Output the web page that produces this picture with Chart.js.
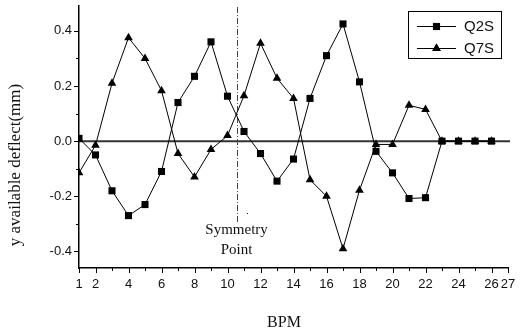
<!DOCTYPE html>
<html>
<head>
<meta charset="utf-8">
<script src="https://cdn.jsdelivr.net/npm/chart.js@4.4.1/dist/chart.umd.min.js"></script>
<style>
  html, body { margin: 0; padding: 0; background: #fff; }
  #c { display: block; }
</style>
</head>
<body>
<canvas id="c" width="520" height="333"></canvas>
<script>
// BPM index along the line
const bpm = [1, 2, 3, 4, 5, 6, 7, 8, 9, 10, 11, 12, 13, 14, 15, 16, 17, 18, 19, 20, 21, 22, 23, 24, 25, 26];
const q2s = [0.01, -0.05, -0.18, -0.27, -0.23, -0.11, 0.14, 0.235, 0.36, 0.163, 0.035, -0.045, -0.145, -0.065,
             0.155, 0.31, 0.425, 0.215, -0.037, -0.115, -0.208, -0.205, 0, 0, 0, 0];
const q7s = [-0.115, -0.015, 0.21, 0.375, 0.30, 0.183, -0.045, -0.13, -0.03, 0.02, 0.165, 0.355, 0.228, 0.155,
             -0.14, -0.2, -0.39, -0.178, -0.012, -0.012, 0.13, 0.115, 0, 0, 0, 0];
const seriesNames = ["Q2S", "Q7S"];

const xTicks = [1, 2, 3, 4, 5, 6, 7, 8, 9, 10, 11, 12, 13, 14, 15, 16, 17, 18, 19, 20, 21, 22, 23, 24, 25, 26, 27];
const xLabeled = [1, 2, 4, 6, 8, 10, 12, 14, 16, 18, 20, 22, 24, 26, 27];
const yTicks = [-0.4, -0.3, -0.2, -0.1, 0, 0.1, 0.2, 0.3, 0.4];
const yLabeled = [-0.4, -0.2, 0, 0.2, 0.4];

const symmetryX = 10.55;   // BPM position of the symmetry marker
const symmetryEnd = -0.3;  // where the dashed line stops

const sans = "'Liberation Sans', Arial, sans-serif";
const serif = "'Liberation Serif', 'Times New Roman', serif";

const isLabeled = (list, v) => list.some(t => Math.abs(t - v) < 1e-6);

const decor = {
  id: "decor",
  beforeDatasetsDraw(chart) {
    const { ctx, chartArea, scales } = chart;
    const x = scales.x, y = scales.y;
    ctx.save();
    // zero line
    const y0 = y.getPixelForValue(0);
    ctx.strokeStyle = "#333";
    ctx.lineWidth = 2;
    ctx.beginPath();
    ctx.moveTo(chartArea.left, y0);
    ctx.lineTo(chartArea.right + 2, y0);
    ctx.stroke();
    // symmetry line
    const sx = Math.round(x.getPixelForValue(symmetryX)) + 0.5;
    ctx.strokeStyle = "#444";
    ctx.lineWidth = 1;
    ctx.setLineDash([6, 2, 1, 2]);
    ctx.beginPath();
    ctx.moveTo(sx, chartArea.top + 1);
    ctx.lineTo(sx, y.getPixelForValue(symmetryEnd));
    ctx.stroke();
    ctx.restore();
  },
  afterDraw(chart) {
    const { ctx, chartArea, scales } = chart;
    const x = scales.x, y = scales.y;
    ctx.save();
    ctx.strokeStyle = "#000";
    ctx.lineWidth = 1;
    // y tick marks
    yTicks.forEach(v => {
      const py = Math.round(y.getPixelForValue(v)) + 0.5;
      const len = isLabeled(yLabeled, v) ? 5 : 3;
      ctx.beginPath();
      ctx.moveTo(chartArea.left, py);
      ctx.lineTo(chartArea.left - len, py);
      ctx.stroke();
    });
    // x tick marks
    xTicks.forEach(v => {
      const px = Math.round(x.getPixelForValue(v)) + 0.5;
      const len = isLabeled(xLabeled, v) ? 5 : 3;
      ctx.beginPath();
      ctx.moveTo(px, chartArea.bottom);
      ctx.lineTo(px, chartArea.bottom + len);
      ctx.stroke();
    });

    // axis titles
    ctx.fillStyle = "#111";
    ctx.textAlign = "center";
    ctx.textBaseline = "middle";
    ctx.font = "16px " + serif;
    ctx.fillText("BPM", 284, 323);
    ctx.save();
    ctx.translate(16, 165);
    ctx.rotate(-Math.PI / 2);
    ctx.font = "17px " + serif;
    ctx.fillText("y available deflect(mm)", 0, 0);
    ctx.restore();

    // symmetry caption
    const sx = x.getPixelForValue(symmetryX);
    const sy = y.getPixelForValue(symmetryEnd);
    ctx.font = "15px " + serif;
    ctx.fillText("Symmetry", sx, sy + 6);
    ctx.fillText("Point", sx, sy + 26);
    ctx.fillRect(Math.round(sx) + 10, Math.round(sy) - 11, 1, 1);

    // legend
    ctx.strokeStyle = "#000";
    ctx.lineWidth = 1;
    ctx.strokeRect(408.5, 11.5, 93, 47);
    const rows = [26, 48];
    const styles = ["rect", "triangle"];
    rows.forEach((ry, i) => {
      ctx.beginPath();
      ctx.moveTo(417, ry + 0.5);
      ctx.lineTo(456, ry + 0.5);
      ctx.stroke();
      Chart.helpers.drawPoint(ctx, { pointStyle: styles[i], radius: 5, borderWidth: 0, rotation: 0 }, 436.5, ry + 0.5);
      ctx.fillStyle = "#000";
      ctx.fill();
      ctx.fillStyle = "#111";
      ctx.textAlign = "left";
      ctx.font = "15px " + sans;
      ctx.fillText(seriesNames[i], 464, ry + 1);
    });
    ctx.restore();
  }
};

const mkData = vals => bpm.map((b, i) => ({ x: b, y: vals[i] }));

new Chart(document.getElementById("c").getContext("2d"), {
  type: "line",
  data: {
    datasets: [
      {
        label: seriesNames[0], data: mkData(q2s), pointStyle: "rect",
        pointRadius: 5, pointBorderWidth: 0, borderColor: "#000", backgroundColor: "#000",
        borderWidth: 1, tension: 0
      },
      {
        label: seriesNames[1], data: mkData(q7s), pointStyle: "triangle",
        pointRadius: 5, pointBorderWidth: 0, borderColor: "#000", backgroundColor: "#000",
        borderWidth: 1, tension: 0
      }
    ]
  },
  options: {
    responsive: false,
    animation: false,
    devicePixelRatio: 1,
    layout: { padding: { top: 6, right: 12, left: 0, bottom: 0 } },
    plugins: { legend: { display: false }, tooltip: { enabled: false } },
    scales: {
      x: {
        type: "linear", min: 1, max: 27,
        afterBuildTicks: s => { s.ticks = xTicks.map(v => ({ value: v })); },
        afterFit: s => { s.height = 65; s.paddingLeft = 0; s.paddingRight = 0; },
        grid: { display: false, drawTicks: false },
        border: { display: true, color: "#000", width: 1.5 },
        ticks: {
          autoSkip: false, maxRotation: 0, padding: 9, color: "#111",
          font: { family: sans, size: 13 },
          callback: v => isLabeled(xLabeled, v) ? String(v) : ""
        }
      },
      y: {
        min: -0.46, max: 0.49,
        afterBuildTicks: s => { s.ticks = yTicks.map(v => ({ value: v })); },
        afterFit: s => { s.width = 79; s.paddingTop = 0; s.paddingBottom = 0; },
        grid: { display: false, drawTicks: false },
        border: { display: true, color: "#000", width: 1.5 },
        ticks: {
          autoSkip: false, padding: 7, color: "#111",
          font: { family: sans, size: 13 },
          callback: v => isLabeled(yLabeled, v) ? v.toFixed(1) : ""
        }
      }
    }
  },
  plugins: [decor]
});
</script>
</body>
</html>
